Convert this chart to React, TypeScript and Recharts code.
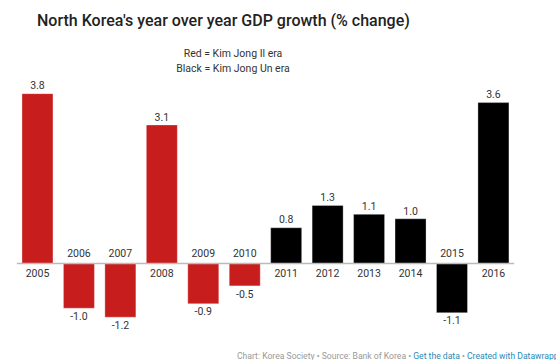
import React from 'react';
import { BarChart, Bar, XAxis, YAxis, Cell, LabelList, ReferenceLine } from 'recharts';

const years = ['2005', '2006', '2007', '2008', '2009', '2010', '2011', '2012', '2013', '2014', '2015', '2016'];
const growth = [3.8, -1.0, -1.2, 3.1, -0.9, -0.5, 0.8, 1.3, 1.1, 1.0, -1.1, 3.6];
const eras = ['il', 'il', 'il', 'il', 'il', 'il', 'un', 'un', 'un', 'un', 'un', 'un'];

const eraColor: Record<string, string> = { il: '#c71e1d', un: '#000000' };

const data = years.map((year, i) => ({ year, value: growth[i], era: eras[i] }));

const font = 'Roboto, "Noto Sans", sans-serif';

const BarLabels = (props: any) => {
  const { x, y, width, height, index } = props;
  const v = growth[index];
  const top = Math.min(y, y + height);
  const bottom = Math.max(y, y + height);
  const cx = x + width / 2;
  const pos = v >= 0;
  return (
    <g fontFamily={font} fontSize={10.5} fill="#333" textAnchor="middle">
      <text x={cx} y={pos ? top - 8 : bottom + 8} dy="0.35em">{v.toFixed(1)}</text>
      <text x={cx} y={pos ? bottom + 10 : top - 10} dy="0.35em">{years[index]}</text>
    </g>
  );
};

export default function App() {
  return (
    <div style={{ position: 'fixed', left: 0, top: 0, width: 556, height: 360, background: '#fff', fontFamily: font, overflow: 'hidden' }}>
      <div style={{ position: 'absolute', left: 37, top: 11, fontSize: 16, fontWeight: 500, color: '#222', whiteSpace: 'nowrap' }}>
        North Korea's year over year GDP growth (% change)
      </div>
      <div style={{ position: 'absolute', left: 133, width: 200, top: 46, fontSize: 10.5, lineHeight: '15px', color: '#333', textAlign: 'center' }}>
        <div>Red = Kim Jong Il era</div>
        <div>Black = Kim Jong Un era</div>
      </div>
      <div style={{ position: 'absolute', top: 0, left: 0 }}>
        <BarChart
          width={556}
          height={360}
          data={data}
          margin={{ top: 84.7, right: 41.8, bottom: 29.4, left: 16.8 }}
          barCategoryGap="12.5%"
        >
          <XAxis dataKey="year" hide />
          <YAxis hide domain={[-1.5, 4]} />
          <ReferenceLine y={0} stroke="#bbb" strokeWidth={1.5} />
          <Bar dataKey="value" isAnimationActive={false} stroke="#fff" strokeOpacity={0.4} strokeWidth={0.8}>
            {data.map((d, i) => (
              <Cell key={i} fill={eraColor[d.era]} />
            ))}
            <LabelList dataKey="value" content={BarLabels} />
          </Bar>
        </BarChart>
      </div>
      <div style={{ position: 'absolute', left: 237, top: 351, fontSize: 8.6, color: '#999', whiteSpace: 'nowrap' }}>
        Chart: Korea Society • Source: Bank of Korea • <span style={{ color: '#2a8ab8' }}>Get the data</span> • <span style={{ color: '#2a8ab8' }}>Created with Datawrapper</span>
      </div>
    </div>
  );
}
